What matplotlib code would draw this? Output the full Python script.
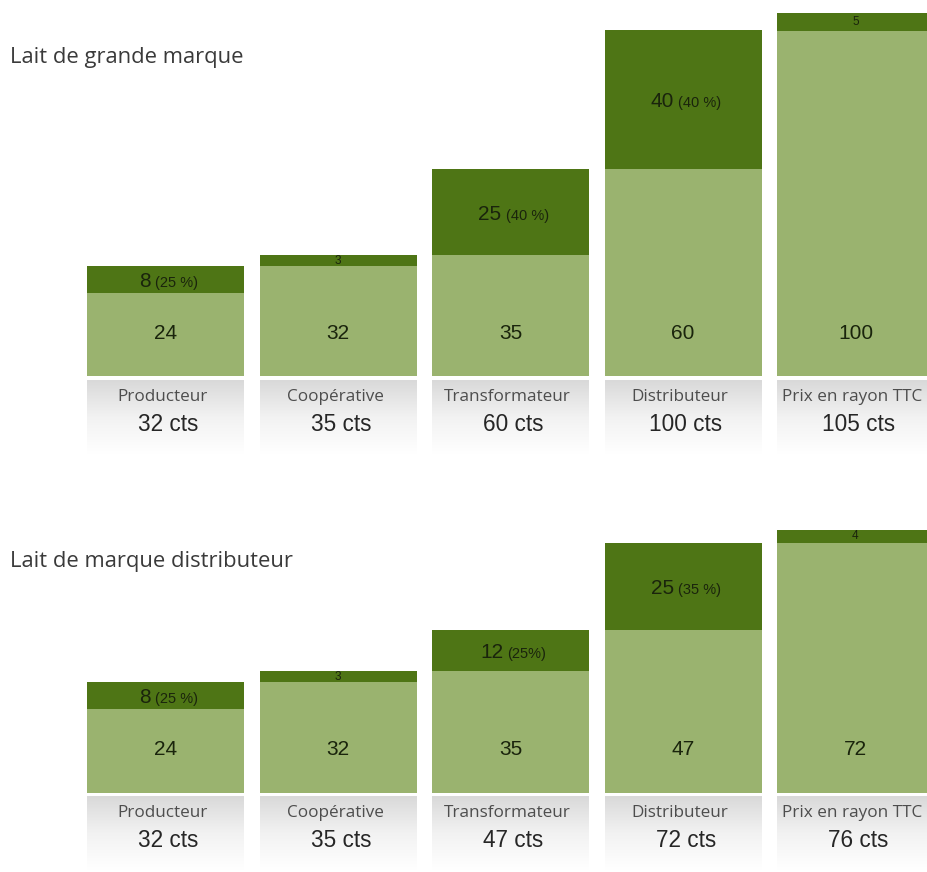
import matplotlib
matplotlib.use('Agg')
import matplotlib.pyplot as plt
from matplotlib.colors import LinearSegmentedColormap
from matplotlib.font_manager import FontProperties
import numpy as np

# ---------------- data ----------------
categories = ["Producteur", "Coopérative", "Transformateur", "Distributeur", "Prix en rayon TTC"]
titles = ["Lait de grande marque", "Lait de marque distributeur"]

gm_base = [24, 32, 35, 60, 100]
gm_margin = [8, 3, 25, 40, 5]
gm_pct = ["(25 %)", "", "(40 %)", "(40 %)", ""]
gm_total = [32, 35, 60, 100, 105]

md_base = [24, 32, 35, 47, 72]
md_margin = [8, 3, 12, 25, 4]
md_pct = ["(25 %)", "", "(25%)", "(35 %)", ""]
md_total = [32, 35, 47, 72, 76]

# ---------------- style ----------------
LIGHT = "#9ab36f"
DARK = "#4e7515"
TXT = "#1a240c"
CAT = "#4d4d4d"
NUMFONT = "Liberation Sans"
LBLFONT = "Open Sans"

W, H = 927, 872
fig = plt.figure(figsize=(W / 100, H / 100), dpi=100)
fig.patch.set_facecolor("white")

PX = 3.46        # pixels per cent
pitch = 172.5    # pixels between bar centres
x0 = 165.5       # centre of first bar (pixels)
bw = 157 / pitch
dx = 1 / pitch   # one pixel in x data units

grad_cmap = LinearSegmentedColormap.from_list("g", ["#d9d9d9", "#f2f2f2", "#ffffff"])
renderer = fig.canvas.get_renderer()

BIG = 15
SMALL = 10.5


def text_w(s, size):
    prop = FontProperties(family=NUMFONT, size=size)
    w, h, d = renderer.get_text_width_height_descent(s, prop, ismath=False)
    return w


def make_ax(top_px, bottom_px, base_px):
    ax = fig.add_axes([0, 1 - bottom_px / H, 1, (bottom_px - top_px) / H])
    lims = ((-x0 / pitch, (W - x0) / pitch),
            (-(bottom_px - base_px) / PX, (base_px - top_px) / PX))
    ax.axis("off")
    return ax, lims


def panel(ax, lims, base, margin, pct, total, title, title_y):
    xs = np.arange(len(categories))
    ax.bar(xs, base, width=bw, color=LIGHT, linewidth=0)
    ax.bar(xs, margin, bottom=base, width=bw, color=DARK, linewidth=0)
    grad = np.linspace(0, 1, 200).reshape(-1, 1)
    for i, x in enumerate(xs):
        ax.imshow(grad, extent=[x - bw / 2, x + bw / 2, -22.5, -1.2],
                  aspect="auto", cmap=grad_cmap, origin="upper", zorder=0)
        # base value
        ax.text(x, 12.4, str(base[i]), ha="center", va="center",
                fontsize=BIG, family=NUMFONT, color=TXT)
        # margin label
        ym = base[i] + margin[i] / 2
        if pct[i]:
            w1 = text_w(str(margin[i]), BIG)
            w2 = text_w(pct[i], SMALL)
            gap = 4
            tot = w1 + gap + w2
            ax.annotate(str(margin[i]), (x, ym), xytext=(-tot / 2 + 3, -7.5),
                        textcoords="offset pixels", ha="left", va="baseline",
                        fontsize=BIG, family=NUMFONT, color=TXT)
            ax.annotate(pct[i], (x, ym), xytext=(-tot / 2 + 3 + w1 + gap, -7.5),
                        textcoords="offset pixels", ha="left", va="baseline",
                        fontsize=SMALL, family=NUMFONT, color=TXT)
        else:
            ax.text(x, ym, str(margin[i]), ha="center", va="center",
                    fontsize=8.5, family=NUMFONT, color=TXT)
        # category and total
        ax.text(x - 3 * dx, -5.9, categories[i], ha="center", va="center",
                fontsize=12.3, family=LBLFONT, color=CAT)
        ax.text(x + 3 * dx, -13.9, f"{total[i]} cts", ha="center", va="center",
                fontsize=16.3, family=NUMFONT, color="#262626")
    ax.set_xlim(*lims[0])
    ax.set_ylim(*lims[1])
    fig.text(10 / W, 1 - title_y / H, title, ha="left", va="center",
             fontsize=15.8, family=LBLFONT, color="#3a3a3a")


ax1, l1 = make_ax(0, 475, 376.5)
panel(ax1, l1, gm_base, gm_margin, gm_pct, gm_total, titles[0], 57)
ax2, l2 = make_ax(475, 872, 792.5)
panel(ax2, l2, md_base, md_margin, md_pct, md_total, titles[1], 561)

fig.savefig("out.png", dpi=100, facecolor="white")
